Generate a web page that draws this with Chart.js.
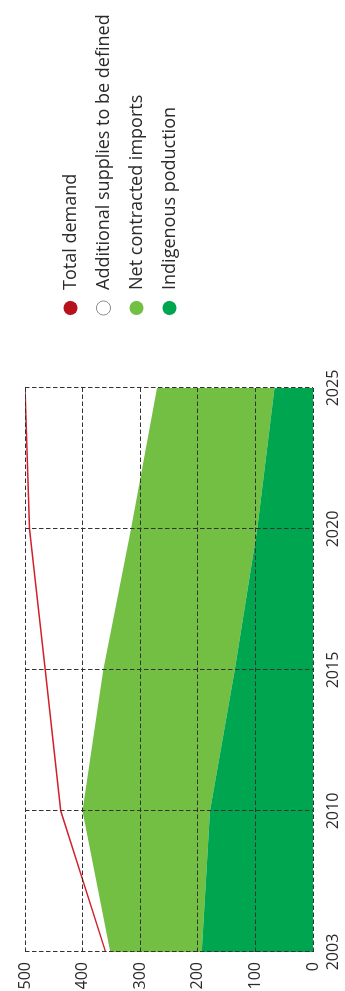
<!DOCTYPE html>
<html>
<head>
<meta charset="utf-8">
<script src="https://cdn.jsdelivr.net/npm/chart.js@4/dist/chart.umd.min.js"></script>
<style>
  html, body { margin: 0; padding: 0; background: #ffffff; overflow: hidden; }
  body { width: 345px; height: 991px; position: relative; }
  /* The chart is laid out landscape and turned a quarter turn counter-clockwise */
  #frame {
    position: absolute; left: 0; top: 0;
    width: 991px; height: 345px;
    transform-origin: 0 0;
    transform: translateY(991px) rotate(-90deg);
  }
  canvas { display: block; }
</style>
</head>
<body>
<div id="frame"><canvas id="gas" width="991" height="345"></canvas></div>
<script>
// Gas balance by year (volumes)
const years = ['2003', '2010', '2015', '2020', '2025'];
const indigenousProduction = [193, 179, 136, 97, 67];
const netContractedImports = [159, 221, 228, 219, 204];
const additionalSupplies = [8, 38, 101, 176, 229];
const totalDemand = [360, 438, 465, 492, 500];
const valueTicks = [0, 100, 200, 300, 400, 500];

const FONT = "'Open Sans', 'DejaVu Sans', sans-serif";
const GRID = '#333333';
const TEXT = '#2a2a2a';

new Chart(document.getElementById('gas'), {
  type: 'line',
  data: {
    labels: years,
    datasets: [
      {
        label: 'Indigenous poduction',
        data: indigenousProduction,
        stack: 'supply',
        fill: 'origin',
        backgroundColor: '#00a550',
        borderWidth: 0,
        pointRadius: 0,
        pointBackgroundColor: '#00a550',
        pointBorderWidth: 0
      },
      {
        label: 'Net contracted imports',
        data: netContractedImports,
        stack: 'supply',
        fill: '-1',
        backgroundColor: '#72bf44',
        borderWidth: 0,
        pointRadius: 0,
        pointBackgroundColor: '#72bf44',
        pointBorderWidth: 0
      },
      {
        label: 'Additional supplies to be defined',
        data: additionalSupplies,
        stack: 'supply',
        fill: '-1',
        backgroundColor: '#ffffff',
        borderWidth: 0,
        pointRadius: 0,
        pointBackgroundColor: '#ffffff',
        pointBorderColor: '#8a8a8a',
        pointBorderWidth: 1
      },
      {
        label: 'Total demand',
        data: totalDemand,
        stack: 'demand',
        order: -1,
        fill: false,
        borderColor: '#d0202a',
        borderWidth: 1.5,
        backgroundColor: '#b5121b',
        pointRadius: 0,
        pointBackgroundColor: '#b5121b',
        pointBorderColor: '#b5121b',
        pointBorderWidth: 0
      }
    ]
  },
  options: {
    responsive: false,
    animation: false,
    events: [],
    layout: { padding: { left: 2, top: 25, right: 4.3, bottom: 1 } },
    plugins: {
      tooltip: { enabled: false },
      // empty spacer keeps a gap between the plot and the legend
      title: {
        display: true,
        text: '',
        position: 'right',
        fullSize: false,
        weight: 500,
        font: { size: 10 },
        padding: { top: 22, bottom: 22 }
      },
      legend: {
        position: 'right',
        align: 'start',
        maxWidth: 420,
        title: { display: true, text: '', font: { size: 10 }, padding: { top: 9.5, bottom: 0 } },
        labels: {
          sort: (a, b) => b.datasetIndex - a.datasetIndex,
          usePointStyle: true,
          pointStyle: 'circle',
          boxWidth: 18,
          boxHeight: 10,
          padding: 15,
          color: TEXT,
          font: { family: FONT, size: 18 }
        }
      }
    },
    scales: {
      x: {
        type: 'category',
        offset: false,
        afterFit: (scale) => { scale.height = 31; },
        grid: { color: GRID, lineWidth: 1, drawTicks: false, tickLength: 0, z: 1 },
        border: { display: false, dash: [4.5, 2.5] },
        ticks: { color: TEXT, padding: 11, maxRotation: 0, font: { family: FONT, size: 16 } }
      },
      y: {
        stacked: true,
        min: valueTicks[0],
        max: valueTicks[valueTicks.length - 1],
        afterBuildTicks: (scale) => { scale.ticks = valueTicks.map(v => ({ value: v })); },
        afterFit: (scale) => { scale.width = 37; },
        grid: { color: GRID, lineWidth: 1, drawTicks: false, tickLength: 0, z: 1 },
        border: { display: false, dash: [4.5, 2.5] },
        ticks: { color: TEXT, padding: 10, font: { family: FONT, size: 16 } }
      }
    }
  }
});
</script>
</body>
</html>
